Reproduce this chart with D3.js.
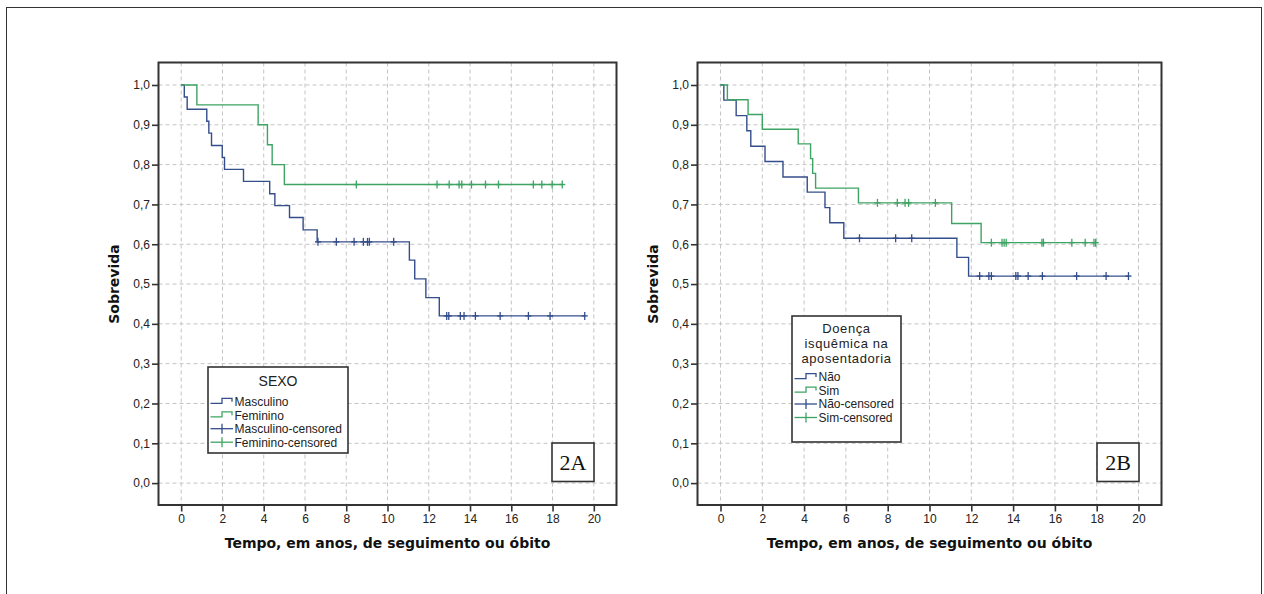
<!DOCTYPE html>
<html><head><meta charset="utf-8">
<script src="https://cdn.jsdelivr.net/npm/d3@7"></script>
<style>body{margin:0;background:#fff}svg{display:block}</style>
</head><body>
<svg id="c" width="1264" height="594"></svg>
<script>
// ---------- DATA ----------
const xTicks = [0, 2, 4, 6, 8, 10, 12, 14, 16, 18, 20];
const yTicks = [0, 0.1, 0.2, 0.3, 0.4, 0.5, 0.6, 0.7, 0.8, 0.9, 1.0];
const xTitle = "Tempo, em anos, de seguimento ou óbito";
const yTitle = "Sobrevida";

// Panel 2A – SEXO
const mascTimes = [0, 0.15, 0.29, 1.24, 1.34, 1.47, 1.99, 2.10, 3.02, 4.29, 4.54, 5.25, 5.91, 6.59, 11.06, 11.32, 11.86, 12.51];
const mascSurv  = [1.0, 0.970, 0.939, 0.909, 0.879, 0.848, 0.818, 0.788, 0.758, 0.727, 0.697, 0.667, 0.636, 0.606, 0.560, 0.513, 0.466, 0.420];
const mascCens  = [6.63, 7.52, 8.38, 8.83, 9.03, 9.12, 10.30, 12.87, 12.97, 13.53, 13.71, 14.26, 15.46, 16.83, 17.88, 19.56];
const femTimes  = [0, 0.76, 3.73, 4.18, 4.41, 5.00];
const femSurv   = [1.0, 0.95, 0.90, 0.85, 0.80, 0.75];
const femCens   = [8.49, 12.40, 12.99, 13.47, 13.60, 14.07, 14.75, 15.38, 17.07, 17.48, 17.98, 18.47];
const legendA_title = ["SEXO"];
const legendA_labels = ["Masculino", "Feminino", "Masculino-censored", "Feminino-censored"];

// Panel 2B – Doença isquêmica na aposentadoria
const naoTimes = [0, 0.16, 0.75, 1.26, 1.45, 2.13, 2.99, 4.15, 5.00, 5.23, 5.90, 11.31, 11.87];
const naoSurv  = [1.0, 0.962, 0.923, 0.885, 0.846, 0.808, 0.769, 0.731, 0.692, 0.654, 0.615, 0.567, 0.520];
const naoCens  = [6.65, 8.38, 9.15, 12.40, 12.84, 12.96, 14.13, 14.23, 14.72, 15.40, 17.04, 18.45, 19.52];
const simTimes = [0, 0.33, 1.32, 2.00, 3.72, 4.31, 4.41, 4.55, 6.60, 11.06, 12.47];
const simSurv  = [1.0, 0.963, 0.926, 0.889, 0.852, 0.815, 0.778, 0.741, 0.704, 0.652, 0.604];
const simCens  = [7.51, 8.46, 8.83, 9.00, 10.28, 12.96, 13.47, 13.57, 13.67, 15.38, 15.45, 16.81, 17.45, 17.87, 17.95];
const legendB_title = ["Doença", "isquêmica na", "aposentadoria"];
const legendB_labels = ["Não", "Sim", "Não-censored", "Sim-censored"];

const panelLabels = ["2A", "2B"];

// ---------- STYLE ----------
const BLUE = "#344e8c", GREEN = "#3ea463", DARK = "#333", GRID = "#c4c4c4";
const sansFont = "'Liberation Sans', Arial, sans-serif";
const boldFont = "'DejaVu Sans', Verdana, sans-serif";

const svg = d3.select("#c");
svg.append("rect").attr("x", 6.5).attr("y", 7.5).attr("width", 1255).attr("height", 600)
  .attr("fill", "none").attr("stroke", DARK).attr("stroke-width", 1);

function panel(cfg) {
  const {left, right, top, bottom} = cfg.frame;
  const x = d3.scaleLinear().domain([-1.1, 21.1]).range([left, right]);
  const y = d3.scaleLinear().domain([-0.055, 1.0565]).range([bottom, top]);
  const g = svg.append("g");

  // grid
  g.append("g").selectAll("line").data(xTicks).join("line")
    .attr("x1", d => x(d)).attr("x2", d => x(d)).attr("y1", top).attr("y2", bottom)
    .attr("stroke", GRID).attr("stroke-dasharray", "4,3").attr("stroke-width", 1);
  g.append("g").selectAll("line").data(yTicks).join("line")
    .attr("y1", d => y(d)).attr("y2", d => y(d)).attr("x1", left).attr("x2", right)
    .attr("stroke", GRID).attr("stroke-dasharray", "4,3").attr("stroke-width", 1);

  // axes
  const fmt = d => d3.format(".1f")(d).replace(".", ",");
  const ya = g.append("g").attr("transform", `translate(${left},0)`)
    .call(d3.axisLeft(y).tickValues(yTicks).tickFormat(fmt).tickSize(6.5).tickPadding(2));
  const xa = g.append("g").attr("transform", `translate(0,${bottom})`)
    .call(d3.axisBottom(x).tickValues(xTicks).tickFormat(d3.format("d")).tickSize(6.5).tickPadding(3));
  [ya, xa].forEach(a => {
    a.select(".domain").remove();
    a.selectAll(".tick line").attr("stroke", DARK).attr("stroke-width", 1.6);
    a.selectAll(".tick text").attr("fill", "#222").style("font-family", sansFont).style("font-size", "12px");
  });

  // frame
  g.append("rect").attr("x", left).attr("y", top).attr("width", right - left).attr("height", bottom - top)
    .attr("fill", "none").attr("stroke", DARK).attr("stroke-width", 2);

  // curves
  const line = d3.line().x(d => x(d[0])).y(d => y(d[1])).curve(d3.curveStepAfter);
  cfg.series.forEach(s => {
    const pts = s.times.map((t, i) => [t, s.surv[i]]);
    const last = s.surv[s.surv.length - 1];
    const end = Math.max(d3.max(s.cens), s.times[s.times.length - 1]);
    pts.push([end, last]);
    g.append("path").datum(pts).attr("d", line).attr("fill", "none")
      .attr("stroke", s.color).attr("stroke-width", 1.4);
    const survAt = t => { let v = 1; s.times.forEach((tt, i) => { if (tt <= t) v = s.surv[i]; }); return v; };
    const cg = g.append("g").selectAll("g").data(s.cens).join("g")
      .attr("transform", d => `translate(${x(d)},${y(survAt(d))})`);
    cg.append("line").attr("x1", 0).attr("x2", 0).attr("y1", -4).attr("y2", 4)
      .attr("stroke", s.color).attr("stroke-width", 1.3);
    cg.append("line").attr("x1", -3).attr("x2", 3).attr("y1", 0).attr("y2", 0)
      .attr("stroke", s.color).attr("stroke-width", 1.4);
  });

  // axis titles
  g.append("text").attr("x", x(10)).attr("y", bottom + 43).attr("text-anchor", "middle")
    .style("font-family", boldFont).style("font-weight", "bold").style("font-size", "14px")
    .attr("fill", "#111").text(xTitle);
  g.append("text").attr("transform", `translate(${left - 39.5},${y(0.5)}) rotate(-90)`)
    .attr("text-anchor", "middle")
    .style("font-family", boldFont).style("font-weight", "bold").style("font-size", "14px")
    .attr("fill", "#111").text(yTitle);

  // legend
  const L = cfg.legend;
  g.append("rect").attr("x", L.x).attr("y", L.y).attr("width", L.w).attr("height", L.h)
    .attr("fill", "#fff").attr("stroke", DARK).attr("stroke-width", 1.6);
  L.title.forEach((t, i) => {
    g.append("text").attr("text-anchor", "middle")
      .attr("x", L.x + L.w / 2).attr("y", L.titleY + i * L.titleGap)
      .style("font-family", sansFont).style("font-size", L.titleSize + "px")
      .style("letter-spacing", L.titleSpacing + "px").attr("fill", "#222").text(t);
  });
  const colors = [BLUE, GREEN, BLUE, GREEN];
  L.labels.forEach((lab, i) => {
    const cy = L.entryY + i * 13.5;
    const x0 = L.x + 2.5;
    if (i < 2) {
      g.append("path").attr("d", `M${x0},${cy + 1.6}H${x0 + 11.5}V${cy - 3.4}H${x0 + 21.5}V${cy}`)
        .attr("fill", "none").attr("stroke", colors[i]).attr("stroke-width", 1.3);
    } else {
      g.append("line").attr("x1", x0).attr("x2", x0 + 22.5).attr("y1", cy).attr("y2", cy)
        .attr("stroke", colors[i]).attr("stroke-width", 1.3);
      g.append("line").attr("x1", x0 + 11.5).attr("x2", x0 + 11.5).attr("y1", cy - 5).attr("y2", cy + 5)
        .attr("stroke", colors[i]).attr("stroke-width", 1.3);
    }
    g.append("text").attr("x", x0 + 24).attr("y", cy + 4.3)
      .style("font-family", sansFont).style("font-size", "12px").attr("fill", "#222").text(lab);
  });

  // panel label
  const bx = right - 22.5 - 42, by = bottom - 23.5 - 38.5;
  g.append("rect").attr("x", bx).attr("y", by).attr("width", 42).attr("height", 38.5)
    .attr("fill", "#fff").attr("stroke", DARK).attr("stroke-width", 1.6);
  g.append("text").attr("x", bx + 21).attr("y", by + 27).attr("text-anchor", "middle")
    .style("font-family", "'Liberation Serif', 'Times New Roman', serif").style("font-size", "22px")
    .attr("fill", "#111").text(cfg.label);
}

panel({
  frame: {left: 158.5, right: 616.5, top: 62.5, bottom: 505},
  series: [
    {times: mascTimes, surv: mascSurv, cens: mascCens, color: BLUE},
    {times: femTimes, surv: femSurv, cens: femCens, color: GREEN}
  ],
  legend: {x: 208, y: 367, w: 140, h: 86, title: legendA_title, titleY: 386, titleGap: 15, titleSize: 14, titleSpacing: 0,
           labels: legendA_labels, entryY: 401.7},
  label: panelLabels[0]
});
panel({
  frame: {left: 697.5, right: 1161.5, top: 62.5, bottom: 505},
  series: [
    {times: naoTimes, surv: naoSurv, cens: naoCens, color: BLUE},
    {times: simTimes, surv: simSurv, cens: simCens, color: GREEN}
  ],
  legend: {x: 792, y: 316, w: 109, h: 126, title: legendB_title, titleY: 333, titleGap: 15, titleSize: 13, titleSpacing: 0.6,
           labels: legendB_labels, entryY: 377},
  label: panelLabels[1]
});
</script>
</body></html>
